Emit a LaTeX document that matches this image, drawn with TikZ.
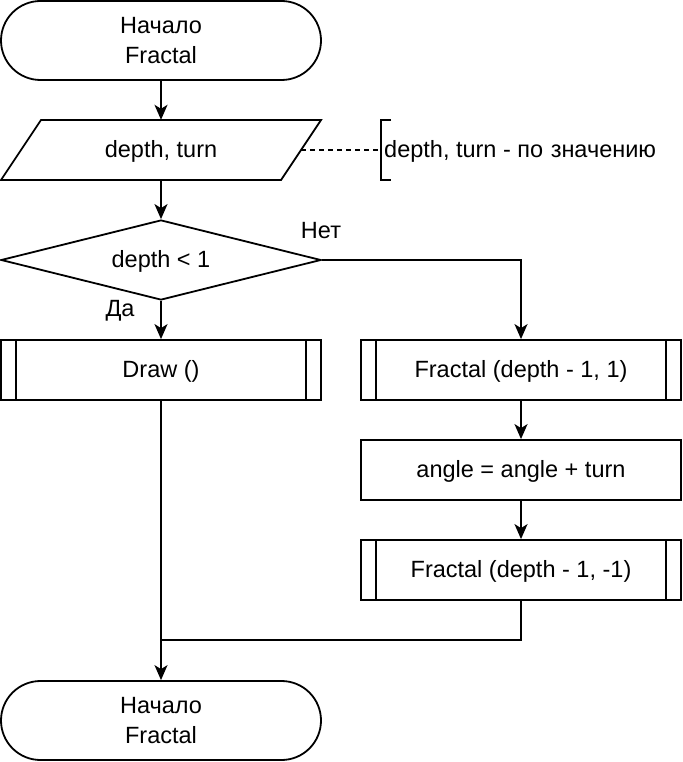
\documentclass[tikz,border=0pt]{standalone}
\usepackage{fontspec}
\setmainfont{Liberation Sans}
\usetikzlibrary{shapes.geometric,shapes.misc,arrows.meta}
\begin{document}
\begin{tikzpicture}[x=1pt,y=-1pt,
  every node/.style={font=\fontsize{23.5}{30}\selectfont, inner sep=0pt},
  lw/.style={line width=1.8pt},
  oneline/.style={text height=20pt, text depth=4.6pt},
  term/.style={lw, draw, rounded rectangle, minimum width=320pt, minimum height=79pt, align=center},
  proc/.style={lw, draw, rectangle, minimum width=320pt, minimum height=60pt, oneline},
  dec/.style={lw, draw, diamond, aspect=4, minimum width=320pt, minimum height=80pt, oneline},
  arr/.style={lw, -{Stealth[length=15pt,width=13pt,inset=4pt]}},
  conn/.style={lw},
  lbl/.style={}
]
\useasboundingbox (0,0) rectangle (682,762);

% start
\node[term] (start) at (161,40.5) {Начало\\Fractal};

% input parallelogram
\node[minimum width=320pt, minimum height=60pt, oneline] (inp) at (161,150) {depth, turn};
\draw[lw, line join=miter] (1,180) -- (41,120) -- (321,120) -- (281,180) -- cycle;
\coordinate (inpR) at (301,150);

% annotation
\coordinate (brk) at (381,150);
\draw[lw] (391,120) -- (381,120) -- (381,180) -- (391,180);
\node[anchor=west, oneline] (note) at (384,150) {depth, turn - по\hspace{1pt} значению};
\draw[line width=1.5pt, dash pattern=on 5pt off 4pt] (inpR) -- (brk);

% decision
\node[dec] (dec) at (161,260) {depth < 1};
\node[lbl] (no) at (321,231) {Нет};
\node[lbl] (yes) at (120,311) {Да};

% Draw()
\node[proc] (draw) at (161,370) {Draw ()};
\draw[lw] ([xshift=16pt]draw.north west) -- ([xshift=16pt]draw.south west);
\draw[lw] ([xshift=-16pt]draw.north east) -- ([xshift=-16pt]draw.south east);

% right column
\node[proc] (f1) at (521,370) {Fractal (depth - 1, 1)};
\draw[lw] ([xshift=16pt]f1.north west) -- ([xshift=16pt]f1.south west);
\draw[lw] ([xshift=-16pt]f1.north east) -- ([xshift=-16pt]f1.south east);

\node[proc] (ang) at (521,470) {angle = angle + turn};

\node[proc] (f2) at (521,570) {Fractal (depth - 1, -1)};
\draw[lw] ([xshift=16pt]f2.north west) -- ([xshift=16pt]f2.south west);
\draw[lw] ([xshift=-16pt]f2.north east) -- ([xshift=-16pt]f2.south east);

% end
\node[term] (end) at (161,720.5) {Начало\\Fractal};

\coordinate (merge) at (161,640);
\coordinate (mergeR) at (521,640);

% connectors
\draw[arr] (start) -- (inp);
\draw[arr] (inp) -- (dec);
\draw[arr] (dec) -- (draw);
\draw[arr] (dec.east) -| (f1.north);
\draw[arr] (f1) -- (ang);
\draw[arr] (ang) -- (f2);
\draw[conn] (f2.south) -- (mergeR) -- (merge);
\draw[arr] (draw.south) -- (end.north);
\end{tikzpicture}
\end{document}
